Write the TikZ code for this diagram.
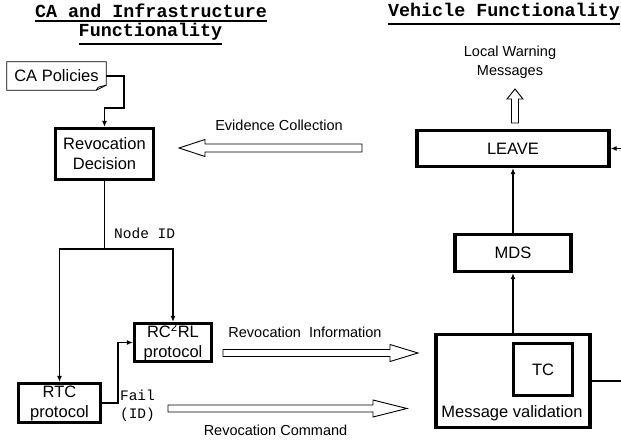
\documentclass[tikz,border=0pt]{standalone}
\usepackage{fontspec}
\setmainfont{Liberation Sans}
\newfontfamily\courfont{Liberation Mono}
\usetikzlibrary{arrows.meta}
\tikzset{
  box/.style={draw, line width=3.2pt, inner sep=0pt, align=center, font=\fontsize{16.5}{20}\selectfont},
  conn/.style={line width=1.8pt, -{Latex[length=6pt,width=5pt]}},
  plainline/.style={line width=1.8pt},
  hollow/.style={draw, line width=0.9pt, fill=white},
  lbl/.style={inner sep=0pt, align=center, font=\fontsize{14.5}{18.5}\selectfont},
  monolbl/.style={inner sep=0pt, align=center, font=\courfont\fontsize{14.5}{18}\selectfont},
  title/.style={inner sep=0pt, align=center, font=\courfont\bfseries\fontsize{18.4}{21}\selectfont},
  uline/.style={line width=1.6pt},
}
\begin{document}
\begin{tikzpicture}[x=1pt,y=-1pt]
\path[use as bounding box] (0,0) rectangle (621,440);
\clip (0,0) rectangle (621,440);

% titles
\node[title] (t1) at (151,11) {CA and Infrastructure};
\node[title] (t2) at (150.5,32) {Functionality};
\node[title] (t3) at (504,12) {Vehicle Functionality};
\draw[uline] (t1.south west) ++(0,3) -- ([yshift=-3pt]t1.south east);
\draw[uline] (t2.south west) ++(0,3) -- ([yshift=-3pt]t2.south east);
\draw[uline] (t3.south west) ++(0,3) -- ([yshift=-3pt]t3.south east);

% CA Policies note
\node[inner sep=0pt, minimum width=99pt, minimum height=28pt, font=\fontsize{16.5}{20}\selectfont] (cap) at (56.5,76) {CA Policies};
\draw[line width=0.8pt] (cap.north west) -- (cap.north east) -- ([yshift=5pt]cap.south east) -- ([xshift=-10pt]cap.south east) -- (cap.south west) -- cycle;
\draw[line width=0.8pt] ([xshift=-10pt]cap.south east) -- ([xshift=-8pt,yshift=3pt]cap.south east) -- ([yshift=5pt]cap.south east);

% boxes
\node[box, minimum width=98pt, minimum height=51pt] (rd) at (104.5,154) {Revocation\\Decision};
\node[box, minimum width=77pt, minimum height=38pt] (rc) at (173,342.5) {RC\textsuperscript{2}RL\\protocol};
\node[box, minimum width=82pt, minimum height=39pt] (rtc) at (59.5,403) {RTC\\protocol};
\node[box, minimum width=154pt, minimum height=93pt] (mv) at (513,381) {};
\node[box, minimum width=59pt, minimum height=52pt] (tc) at (543,369.5) {TC};
\node[lbl, font=\fontsize{16.5}{20}\selectfont] (mvl) at (512,413) {Message validation};
\node[box, minimum width=192pt, minimum height=36pt] (leave) at (513,148.5) {LEAVE};
\node[box, minimum width=116pt, minimum height=37pt] (mds) at (513,253) {MDS};

% connectors
\draw[conn] (cap.east) -| (124,108) -| (rd.north);
\coordinate (j) at (rd.south |- 0,249);
\draw[plainline] (rd.south) -- (j);
\draw[conn] (j) -| (rtc.north);
\draw[conn] (j) -| (rc.north);
\node[monolbl, anchor=west] (nid) at (114,233) {Node ID};
\draw[conn] (rtc.east) -- ++(16,0) |- (rc.west);
\node[monolbl] (fail) at (137.5,406) {Fail\\(ID)};

\draw[conn] (mv.north) -- (mds.south);
\draw[conn] (mds.north) -- (leave.south);
\coordinate (r1) at (640,381);
\coordinate (r2) at (640,148.5);
\draw[conn] (mv.east) -- (r1) -- (r2) -- (leave.east);

% hollow arrows
\draw[hollow] (362,144) -- (205,144) -- (205,139.5) -- (179,148) -- (205,156.5) -- (205,152) -- (362,152) -- cycle;
\node[lbl] (ev) at (279,125) {Evidence Collection};

\draw[hollow] (223,349.5) -- (390,349.5) -- (390,344.5) -- (418,353) -- (390,361.5) -- (390,356.5) -- (223,356.5) -- cycle;
\node[lbl] (ri) at (305,332) {Revocation\ \ Information};

\draw[hollow] (168,405) -- (373,405) -- (373,400) -- (407,408.5) -- (373,417) -- (373,412) -- (168,412) -- cycle;
\node[lbl] (rcmd) at (275.5,430) {Revocation Command};

\draw[hollow] (511.5,123) -- (511.5,99) -- (507,99) -- (515,89) -- (523,99) -- (518.5,99) -- (518.5,123) -- cycle;
\node[lbl] (lw) at (510,62) {Local Warning\\Messages};
\end{tikzpicture}
\end{document}
